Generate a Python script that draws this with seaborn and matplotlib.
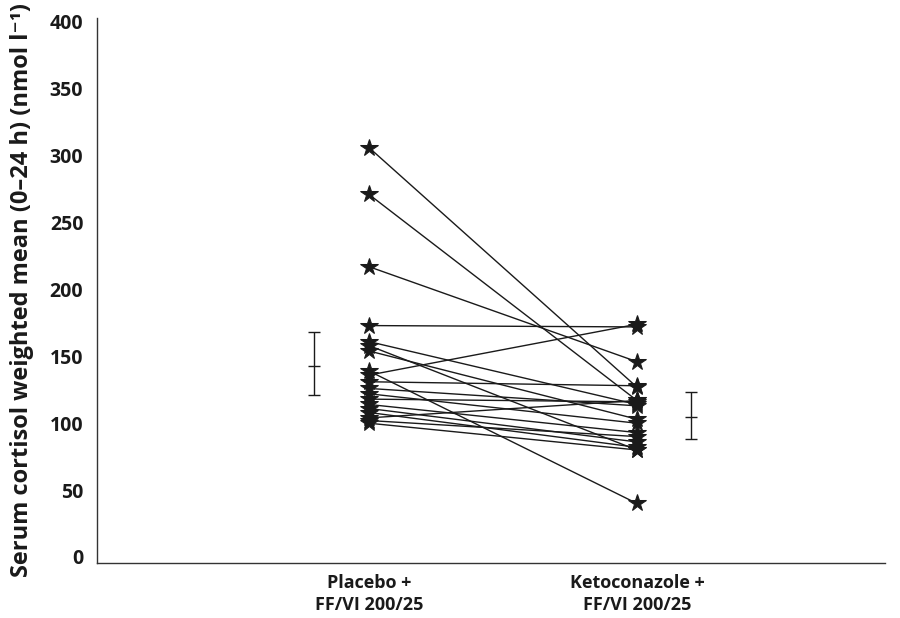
import matplotlib
matplotlib.use("Agg")
import matplotlib.pyplot as plt
import seaborn as sns
import pandas as pd
import numpy as np

# ---- data ----
groups = ["Placebo +\nFF/VI 200/25", "Ketoconazole +\nFF/VI 200/25"]
placebo = [306, 271, 217, 173, 161, 158, 154, 139, 136, 131, 126, 122, 118, 114, 111, 108, 104, 102, 100]
ketoconazole = [127, 117, 146, 172, 114, 80, 103, 40, 174, 128, 113, 100, 116, 93, 86, 82, 117, 90, 80]
summary_mean = [142.6, 104.8]
summary_lower = [121.0, 88.4]
summary_upper = [168.0, 123.2]

sns.set_theme(style="white")
plt.rcParams["font.family"] = ["Open Sans", "DejaVu Sans"]
plt.rcParams["font.weight"] = "bold"

rows = []
for i, (p, k) in enumerate(zip(placebo, ketoconazole)):
    rows.append({"subject": i, "pos": 0, "value": p})
    rows.append({"subject": i, "pos": 1, "value": k})
df = pd.DataFrame(rows)

fig = plt.figure(figsize=(9, 6.18), dpi=100)
ax = fig.add_axes([0.108, 0.089, 0.875, 0.882])

sns.lineplot(data=df, x="pos", y="value", units="subject", estimator=None,
             color="#1a1a1a", linewidth=1.0, marker="*", markersize=13,
             markeredgecolor="#1a1a1a", markerfacecolor="#1a1a1a", ax=ax, legend=False)

# summary error bars offset beside each group
eb_x = [-0.205, 1.20]
m = np.array(summary_mean)
lo = m - np.array(summary_lower)
hi = np.array(summary_upper) - m
ax.errorbar(eb_x, m, yerr=[lo, hi], fmt="_", color="#1a1a1a", ecolor="#1a1a1a",
            elinewidth=1.0, capsize=4, capthick=1.0, markersize=8, markeredgewidth=1.0)

ax.set_xlim(-1.015, 1.925)
ax.set_ylim(-4.5, 403)
ax.set_yticks(np.arange(0, 401, 50))
ax.set_xticks([0, 1])
ax.set_xticklabels(groups, fontsize=13, fontweight="bold", linespacing=1.3)
ax.tick_params(axis="y", direction="in", length=5, width=1, labelsize=14, pad=10, colors="#1a1a1a")
ax.tick_params(axis="x", direction="in", length=5, width=1, pad=8, colors="#1a1a1a")
for lab in ax.get_yticklabels():
    lab.set_fontweight("bold")

ax.set_xlabel("")
ax.set_ylabel("Serum cortisol weighted mean (0–24 h) (nmol l⁻¹)", fontsize=17,
              fontweight="bold", labelpad=11, color="#1a1a1a")

for s in ["top", "right"]:
    ax.spines[s].set_visible(False)
for s in ["left", "bottom"]:
    ax.spines[s].set_color("#333333")
    ax.spines[s].set_linewidth(1.0)

fig.savefig("out.png", dpi=100)
